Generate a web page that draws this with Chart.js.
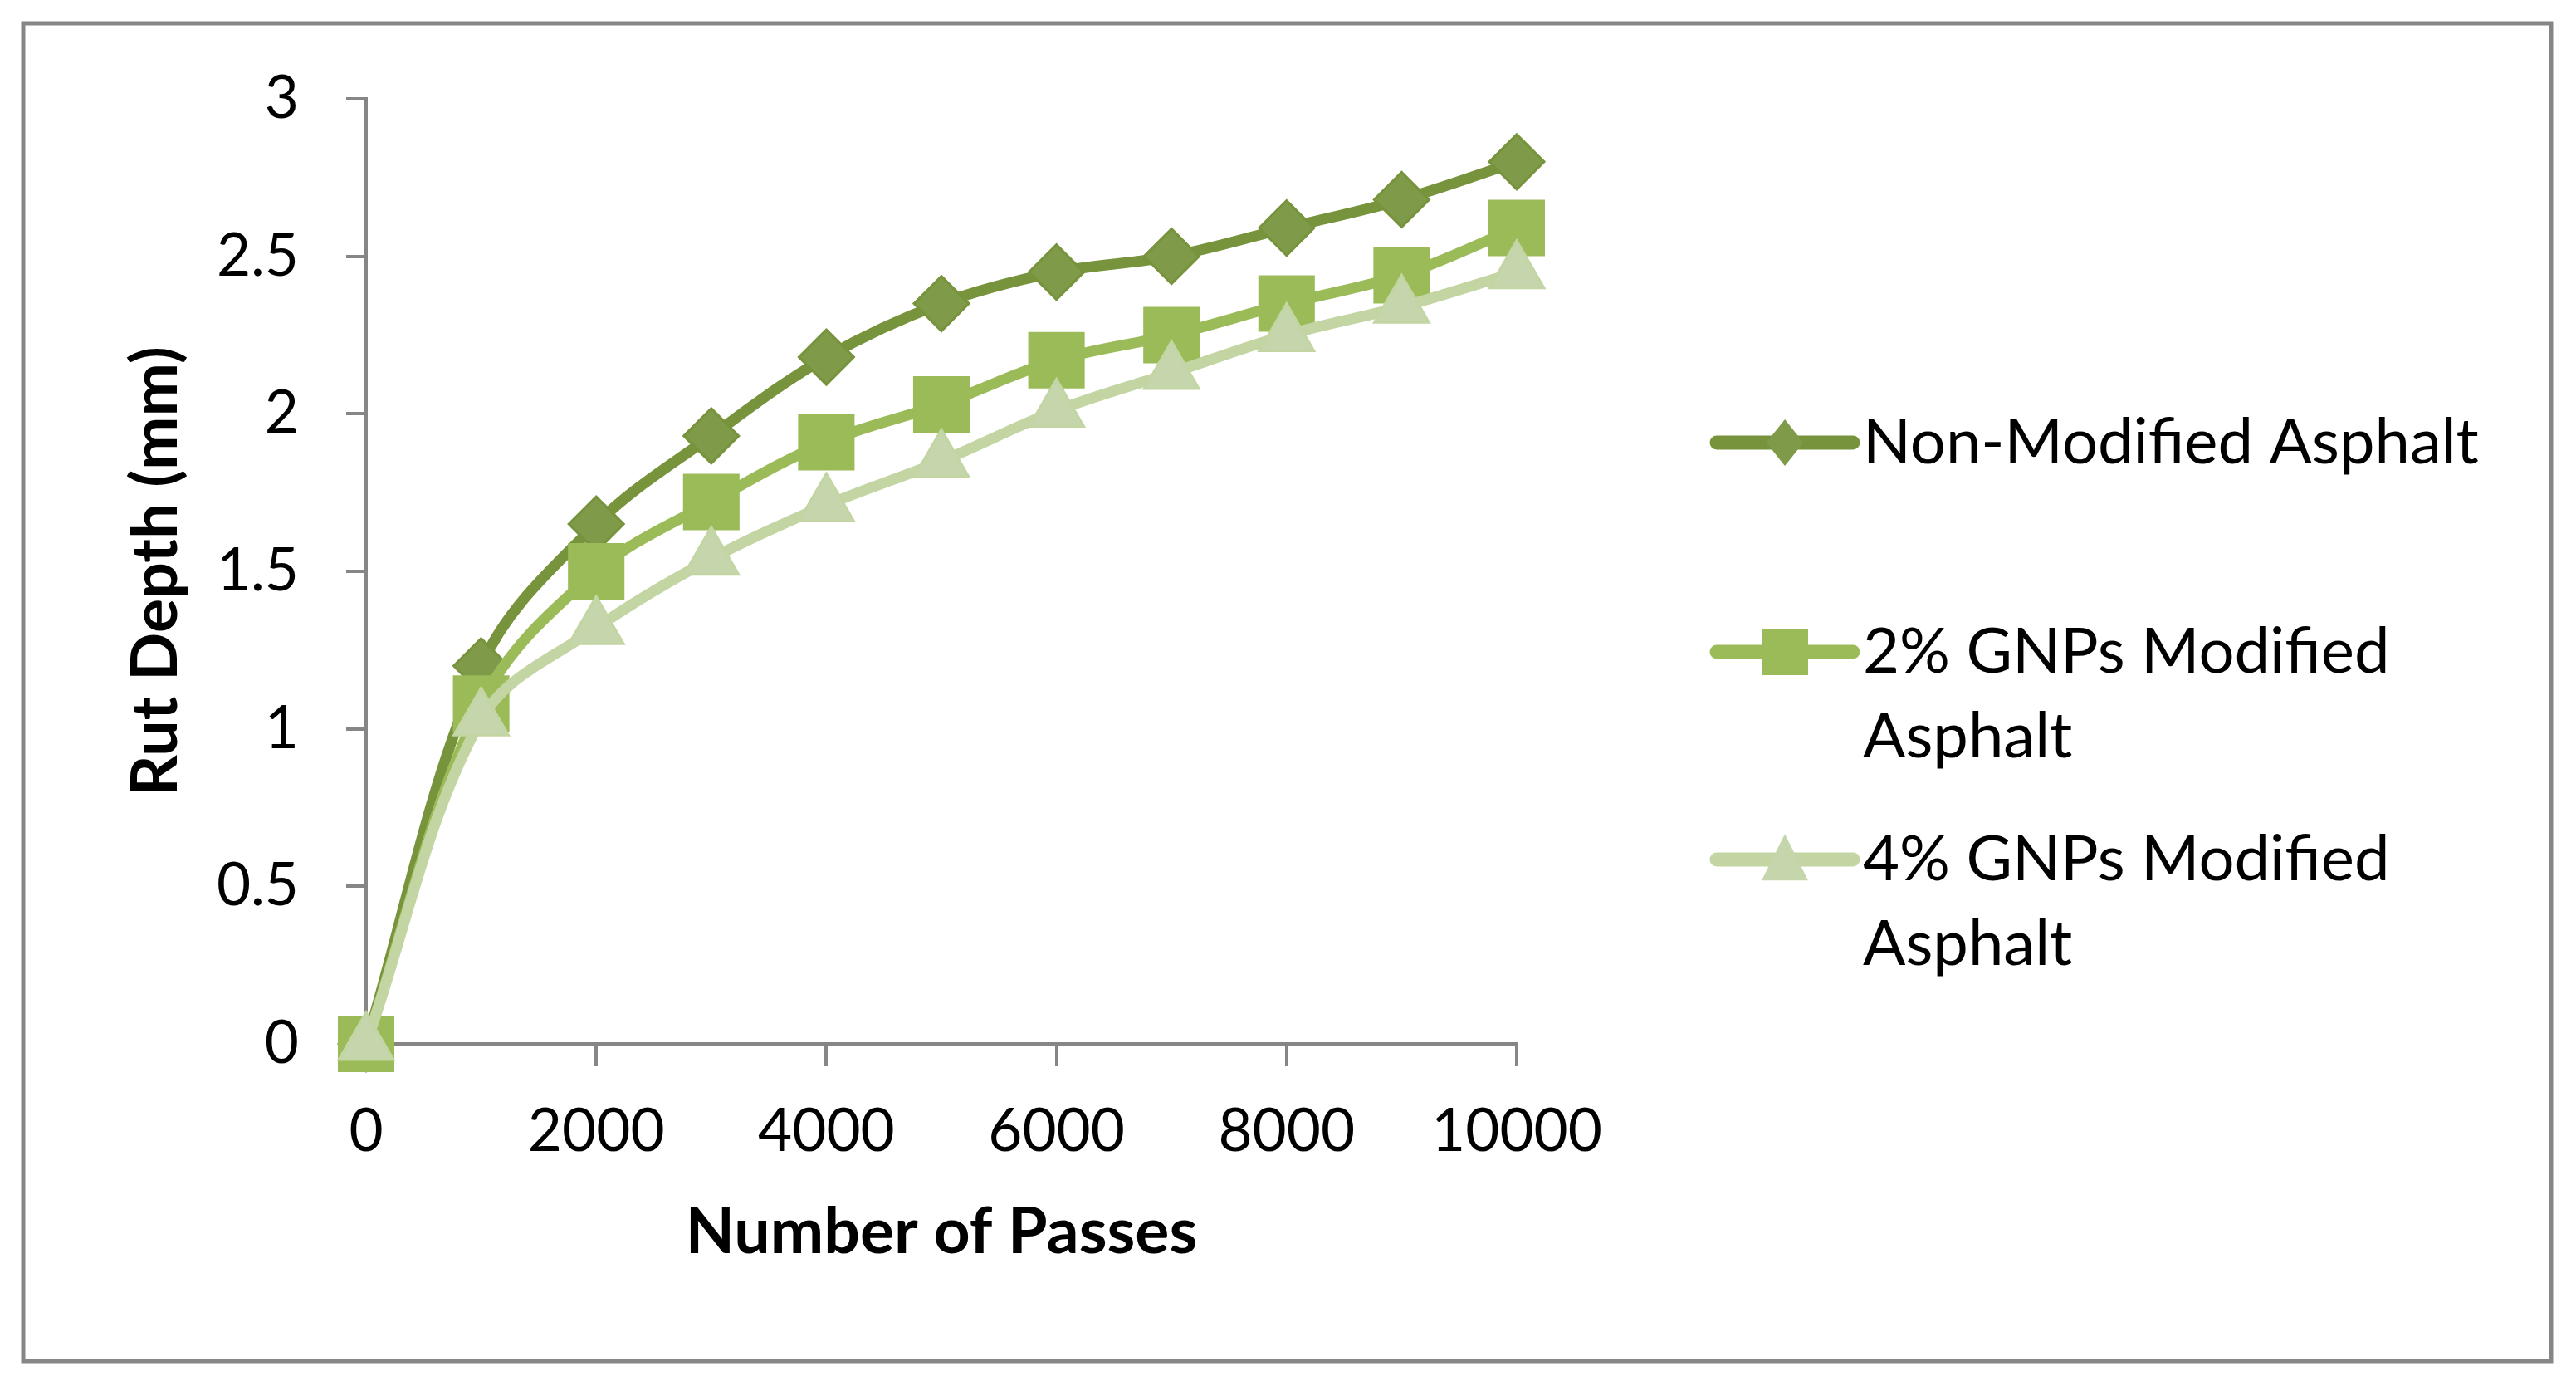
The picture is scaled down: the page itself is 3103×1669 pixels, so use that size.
<!DOCTYPE html>
<html>
<head>
<meta charset="utf-8">
<script src="https://cdn.jsdelivr.net/npm/chart.js@4/dist/chart.umd.min.js"></script>
<style>
  html, body { margin: 0; padding: 0; background: #fff; }
  #wrap { width: 3103px; height: 1669px; }
</style>
</head>
<body>
<div id="wrap"><canvas id="chartRut" width="3103" height="1669"></canvas></div>
<script>
const passes = [0, 1000, 2000, 3000, 4000, 5000, 6000, 7000, 8000, 9000, 10000];
const nonModified = [0, 1.20, 1.65, 1.93, 2.18, 2.35, 2.45, 2.50, 2.59, 2.68, 2.80];
const gnp2 = [0, 1.08, 1.50, 1.72, 1.91, 2.03, 2.17, 2.25, 2.35, 2.44, 2.59];
const gnp4 = [0, 1.03, 1.32, 1.54, 1.71, 1.85, 2.01, 2.13, 2.25, 2.34, 2.45];
const seriesNames = [["Non-Modified Asphalt"], ["2% GNPs Modified", "Asphalt"], ["4% GNPs Modified", "Asphalt"]];
const xTitle = "Number of Passes";
const yTitle = "Rut Depth (mm)";

const FONT = "Lato";
const lineColors = ["#77933C", "#9BBB59", "#C3D5A2"];
const fillColors = ["#7F9A48", "#9BBB59", "#C6D6AC"];
const shapes = ["rectRot", "rect", "triangle"];
const radii = [33, 46, 38];

function pts(vals) { return vals.map((v, i) => ({ x: passes[i], y: v })); }

// marker drawing for the legend
function drawMarker(ctx, shape, x, y, r) {
  ctx.beginPath();
  if (shape === "rectRot") {
    ctx.moveTo(x, y - r); ctx.lineTo(x + r * 0.8, y); ctx.lineTo(x, y + r); ctx.lineTo(x - r * 0.8, y);
  } else if (shape === "rect") {
    ctx.rect(x - r, y - r, 2 * r, 2 * r);
  } else {
    ctx.moveTo(x, y - r * 1.1); ctx.lineTo(x + r, y + r * 0.9); ctx.lineTo(x - r, y + r * 0.9);
  }
  ctx.closePath();
  ctx.fill();
}

const framePlugin = {
  id: "frameLegend",
  beforeDraw(chart) {
    const ctx = chart.ctx;
    ctx.save();
    ctx.fillStyle = "#fff";
    ctx.fillRect(0, 0, chart.width, chart.height);
    ctx.strokeStyle = "#868686";
    ctx.lineWidth = 5;
    ctx.strokeRect(28, 28, 3045, 1611);
    ctx.restore();
  },
  afterDraw(chart) {
    const ctx = chart.ctx;
    const rows = [533, 785, 1035];
    ctx.save();
    seriesNames.forEach((name, i) => {
      const y = rows[i];
      ctx.strokeStyle = lineColors[i];
      ctx.lineWidth = 17;
      ctx.lineCap = "round";
      ctx.beginPath();
      ctx.moveTo(2068, y); ctx.lineTo(2232, y);
      ctx.stroke();
      ctx.fillStyle = fillColors[i];
      drawMarker(ctx, shapes[i], 2150, y, 28);
      ctx.fillStyle = "#000";
      ctx.font = "76px " + FONT;
      ctx.textBaseline = "middle";
      ctx.textAlign = "left";
      name.forEach((line, k) => ctx.fillText(line, 2244, y + k * 102));
    });
    ctx.restore();
  }
};

const datasets = [nonModified, gnp2, gnp4].map((vals, i) => ({
  label: seriesNames[i].join(" "),
  data: pts(vals),
  borderColor: lineColors[i],
  borderWidth: 13,
  backgroundColor: fillColors[i],
  pointBackgroundColor: fillColors[i],
  pointBorderColor: lineColors[i],
  pointBorderWidth: 3,
  pointStyle: shapes[i],
  pointRadius: radii[i],
  pointHoverRadius: radii[i],
  tension: 0.35,
  clip: false,
  order: 3 - i
}));

new Chart(document.getElementById("chartRut"), {
  type: "line",
  data: { datasets },
  options: {
    responsive: false,
    devicePixelRatio: 1,
    animation: false,
    events: [],
    layout: { padding: { left: 100, top: 119, right: 1276, bottom: 139 } },
    plugins: { legend: { display: false }, tooltip: { enabled: false } },
    scales: {
      x: {
        type: "linear",
        min: 0, max: 10000,
        afterFit: s => { s.height = 273; },
        ticks: { stepSize: 2000, color: "#000", padding: 37, font: { family: FONT, size: 71 }, callback: v => String(v), maxRotation: 0 },
        grid: { drawOnChartArea: false, drawTicks: true, tickLength: 27, color: "#868686", lineWidth: 4 },
        border: { display: true, color: "#868686", width: 5 },
        title: { display: true, text: xTitle, color: "#000", font: { family: FONT, size: 77, weight: "bold" }, padding: { top: 0, bottom: 0 } }
      },
      y: {
        min: 0, max: 3,
        afterFit: s => { s.width = 341; },
        ticks: { stepSize: 0.5, color: "#000", padding: 57, font: { family: FONT, size: 71 }, callback: v => String(Math.round(v * 10) / 10) },
        grid: { drawOnChartArea: false, drawTicks: true, tickLength: 24, color: "#868686", lineWidth: 4 },
        border: { display: true, color: "#868686", width: 4 },
        title: { display: true, text: yTitle, color: "#000", font: { family: FONT, size: 77, weight: "bold" }, padding: { top: 42, bottom: 0 } }
      }
    }
  },
  plugins: [framePlugin]
});
</script>
</body>
</html>
